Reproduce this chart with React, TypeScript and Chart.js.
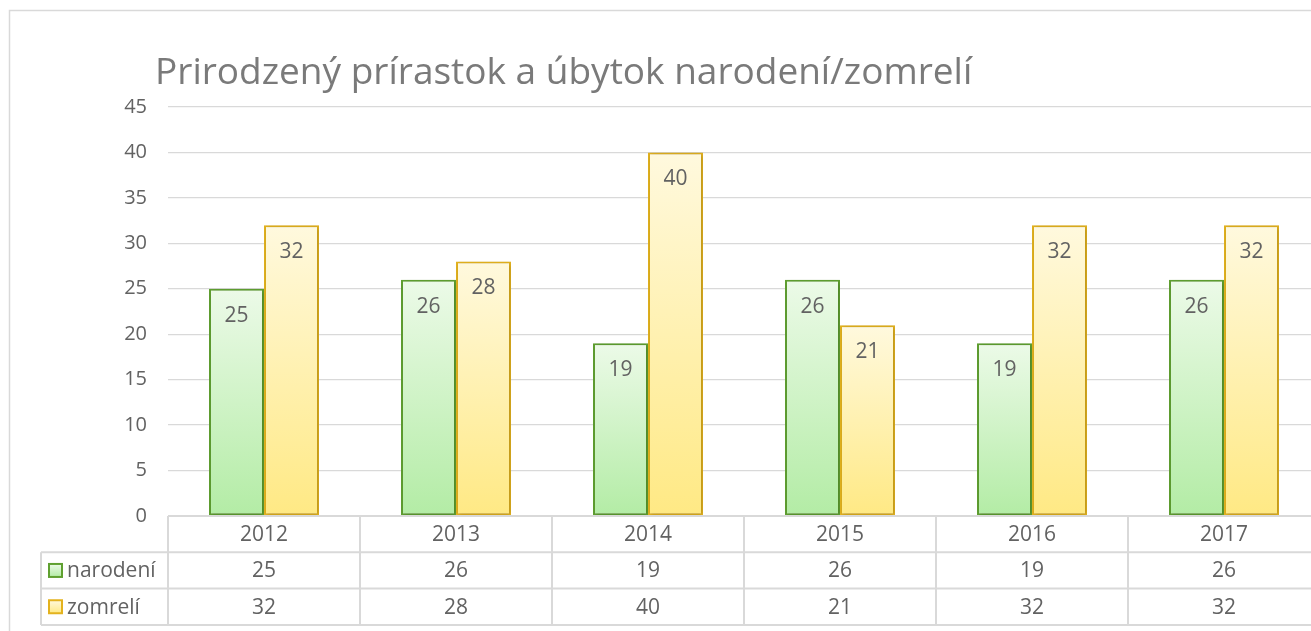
import React, { useEffect, useRef } from "react";
import { Chart, registerables } from "chart.js";

Chart.register(...registerables);

const TITLE = "Prirodzený prírastok a úbytok narodení/zomrelí";
const categories = ["2012", "2013", "2014", "2015", "2016", "2017"];
const seriesNames = ["narodení", "zomrelí"];
const narodeni = [25, 26, 19, 26, 19, 26];
const zomreli = [32, 28, 40, 21, 32, 32];
const yMax = 45;
const yStep = 5;

const FONT = '"Open Sans", sans-serif';
const TEXT = "#626262";
const GRID = "#d9d9d9";

const GREEN = { top: "#ecfae8", bottom: "#b3eca5", border: "#5fa030" };
const YELLOW = { top: "#fff9de", bottom: "#ffe984", border: "#e3b21e" };

function gradientFor(colors: { top: string; bottom: string; border: string }) {
  return (ctx: any) => {
    const chart = ctx.chart;
    const area = chart.chartArea;
    const ys = chart.scales && chart.scales.y;
    if (!area || !ys || ctx.raw === undefined) return colors.bottom;
    const top = ys.getPixelForValue(ctx.raw);
    const g = chart.ctx.createLinearGradient(0, top, 0, area.bottom);
    g.addColorStop(0, colors.top);
    g.addColorStop(1, colors.bottom);
    return g;
  };
}

const framePlugin = {
  id: "frame",
  beforeDraw(chart: any) {
    const c = chart.ctx;
    c.save();
    c.strokeStyle = GRID;
    c.lineWidth = 1.5;
    c.beginPath();
    c.moveTo(9.5, chart.height + 5);
    c.lineTo(9.5, 10.5);
    c.lineTo(chart.width + 5, 10.5);
    c.stroke();
    c.fillStyle = "#7a7a7a";
    c.font = `37px ${FONT}`;
    c.textAlign = "left";
    c.textBaseline = "alphabetic";
    c.fillText(TITLE, 155, 84);
    c.restore();
  },
};

const shadowPlugin = {
  id: "barShadow",
  beforeDatasetDraw(chart: any) {
    const c = chart.ctx;
    c.save();
    c.shadowColor = "rgba(0,0,0,0.22)";
    c.shadowBlur = 4;
    c.shadowOffsetX = 1;
    c.shadowOffsetY = 1;
  },
  afterDatasetDraw(chart: any) {
    chart.ctx.restore();
  },
};

const labelPlugin = {
  id: "valueLabels",
  afterDatasetsDraw(chart: any) {
    const c = chart.ctx;
    c.save();
    c.fillStyle = TEXT;
    c.font = `21px ${FONT}`;
    c.textAlign = "center";
    c.textBaseline = "middle";
    chart.data.datasets.forEach((ds: any, di: number) => {
      const meta = chart.getDatasetMeta(di);
      meta.data.forEach((bar: any, i: number) => {
        c.fillText(String(ds.data[i]), bar.x, bar.y + 27);
      });
    });
    c.restore();
  },
};

const tablePlugin = {
  id: "dataTable",
  afterDraw(chart: any) {
    const c = chart.ctx;
    const area = chart.chartArea;
    const xs = chart.scales.x;
    const n = categories.length;
    const cw = (area.right - area.left) / n;
    const top = area.bottom;
    const rowH = 36.3;
    const legendLeft = 41;
    const rows = [top, top + rowH, top + 2 * rowH, top + 3 * rowH];

    c.save();
    c.strokeStyle = GRID;
    c.lineWidth = 2;
    c.beginPath();
    c.moveTo(area.left, rows[0]);
    c.lineTo(chart.width + 5, rows[0]);
    for (let r = 1; r < 4; r++) {
      c.moveTo(legendLeft, rows[r]);
      c.lineTo(chart.width + 5, rows[r]);
    }
    for (let i = 0; i <= n; i++) {
      const x = area.left + i * cw;
      c.moveTo(x, rows[0]);
      c.lineTo(x, rows[3]);
    }
    c.moveTo(legendLeft, rows[1]);
    c.lineTo(legendLeft, rows[3]);
    c.stroke();

    c.fillStyle = TEXT;
    c.font = `21px ${FONT}`;
    c.textAlign = "center";
    c.textBaseline = "middle";
    categories.forEach((cat, i) => {
      const x = xs.getPixelForValue(i);
      c.fillText(cat, x, (rows[0] + rows[1]) / 2 + 1);
    });
    chart.data.datasets.forEach((ds: any, di: number) => {
      const yMid = (rows[di + 1] + rows[di + 2]) / 2 + 1;
      ds.data.forEach((v: number, i: number) => {
        c.fillText(String(v), xs.getPixelForValue(i), yMid);
      });
      const col = di === 0 ? GREEN : YELLOW;
      const sq = 13;
      const sx = 49;
      const sy = yMid - 1 - sq / 2;
      const g = c.createLinearGradient(0, sy, 0, sy + sq);
      g.addColorStop(0, col.top);
      g.addColorStop(1, col.bottom);
      c.fillStyle = g;
      c.fillRect(sx, sy, sq, sq);
      c.strokeStyle = col.border;
      c.lineWidth = 2;
      c.strokeRect(sx, sy, sq, sq);
      c.fillStyle = TEXT;
      c.textAlign = "left";
      c.fillText(seriesNames[di], 67, yMid);
      c.textAlign = "center";
    });
    c.restore();
  },
};

export default function App() {
  const ref = useRef<HTMLCanvasElement | null>(null);

  useEffect(() => {
    if (!ref.current) return;
    const chart = new Chart(ref.current, {
      type: "bar",
      data: {
        labels: categories,
        datasets: [
          {
            label: seriesNames[0],
            data: narodeni,
            backgroundColor: gradientFor(GREEN) as any,
            borderColor: GREEN.border,
            borderWidth: 2,
            borderSkipped: false,
          },
          {
            label: seriesNames[1],
            data: zomreli,
            backgroundColor: gradientFor(YELLOW) as any,
            borderColor: YELLOW.border,
            borderWidth: 2,
            borderSkipped: false,
          },
        ],
      },
      options: {
        responsive: false,
        animation: false,
        layout: { padding: { left: 0, right: 25, top: 107, bottom: 115 } },
        datasets: {
          bar: { categoryPercentage: 0.573, barPercentage: 1 },
        },
        plugins: {
          legend: { display: false },
          title: { display: false },
          tooltip: { enabled: false },
        },
        scales: {
          x: {
            type: "category",
            display: false,
            offset: true,
            grid: { display: false },
          },
          y: {
            min: 0,
            max: yMax,
            border: { display: false },
            grid: { color: GRID, lineWidth: 1.3, drawTicks: false },
            ticks: {
              stepSize: yStep,
              padding: 21,
              color: TEXT,
              font: { family: FONT, size: 20 },
            },
            afterFit(scale: any) {
              scale.width = 168;
            },
          },
        },
      },
      plugins: [framePlugin, shadowPlugin, labelPlugin, tablePlugin],
    });
    return () => chart.destroy();
  }, []);

  return (
    <div
      style={{
        position: "absolute",
        left: 0,
        top: 0,
        width: 1311,
        height: 631,
        overflow: "hidden",
        background: "#ffffff",
      }}
    >
      <canvas ref={ref} width={1345} height={631} style={{ width: 1345, height: 631, display: "block" }} />
    </div>
  );
}
